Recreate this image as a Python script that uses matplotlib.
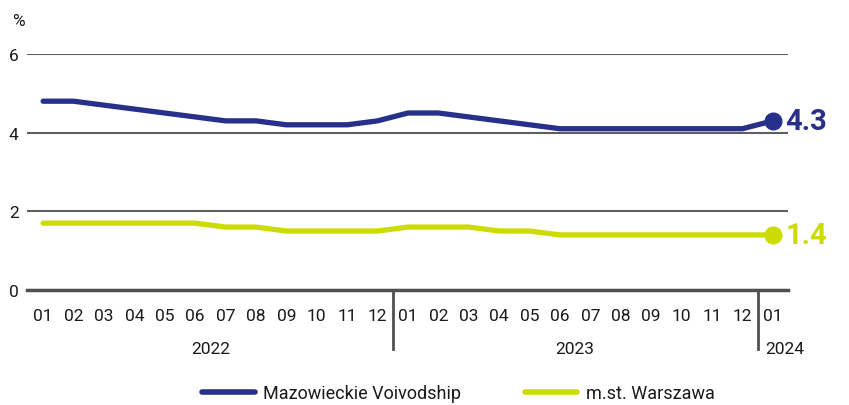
import matplotlib
matplotlib.use("Agg")
import matplotlib.pyplot as plt
import matplotlib.transforms as mtransforms
from matplotlib.lines import Line2D

plt.rcParams['font.family'] = ['Roboto', 'DejaVu Sans']

months = ["01", "02", "03", "04", "05", "06", "07", "08", "09", "10", "11", "12",
          "01", "02", "03", "04", "05", "06", "07", "08", "09", "10", "11", "12",
          "01"]
years = ["2022", "2023", "2024"]
mazowieckie = [4.8, 4.8, 4.7, 4.6, 4.5, 4.4, 4.3, 4.3, 4.2, 4.2, 4.2, 4.3,
               4.5, 4.5, 4.4, 4.3, 4.2, 4.1, 4.1, 4.1, 4.1, 4.1, 4.1, 4.1,
               4.3]
warszawa = [1.7, 1.7, 1.7, 1.7, 1.7, 1.7, 1.6, 1.6, 1.5, 1.5, 1.5, 1.5,
            1.6, 1.6, 1.6, 1.5, 1.5, 1.4, 1.4, 1.4, 1.4, 1.4, 1.4, 1.4,
            1.4]
series_names = ["Mazowieckie Voivodship", "m.st. Warszawa"]

BLUE = "#27308a"
GREEN = "#cddc00"
GRID = "#5f5f5f"
TEXT = "#1a1a1a"
FS = 12.5

fig = plt.figure(figsize=(8.49, 4.06), dpi=100)
ax = fig.add_axes([27/849, 115/406, 761/849, 236/406])

x = list(range(len(months)))
ax.plot(x, mazowieckie, color=BLUE, lw=3.8, solid_joinstyle='round', solid_capstyle='round', zorder=3)
ax.plot(x, warszawa, color=GREEN, lw=3.8, solid_joinstyle='round', solid_capstyle='round', zorder=3)
ax.plot([x[-1]], [mazowieckie[-1]], 'o', color=BLUE, ms=12, zorder=4)
ax.plot([x[-1]], [warszawa[-1]], 'o', color=GREEN, ms=12, zorder=4)
ax.annotate(f"{mazowieckie[-1]:.1f}", (x[-1], mazowieckie[-1]), xytext=(9, 0),
            textcoords='offset points', va='center', ha='left', color=BLUE,
            fontsize=21, fontweight='bold', annotation_clip=False)
ax.annotate(f"{warszawa[-1]:.1f}", (x[-1], warszawa[-1]), xytext=(9, 0),
            textcoords='offset points', va='center', ha='left', color=GREEN,
            fontsize=21, fontweight='bold', annotation_clip=False)

ax.set_xlim(-0.53, 24.5)
ax.set_ylim(0, 6)
ax.set_yticks([0, 2, 4, 6])
ax.set_yticklabels(["0", "2", "4", "6"])
ax.yaxis.grid(True, color=GRID, lw=1.5)
ax.set_axisbelow(True)
for s in ["top", "right", "left"]:
    ax.spines[s].set_visible(False)
ax.spines["bottom"].set_color("#505050")
ax.spines["bottom"].set_linewidth(2.5)
ax.spines["bottom"].set_zorder(2)
ax.tick_params(axis='y', length=0, pad=6, labelsize=FS, labelcolor=TEXT)
ax.set_xticks(x)
ax.set_xticklabels(months)
ax.tick_params(axis='x', length=0, pad=13, labelsize=FS, labelcolor=TEXT)

trans = mtransforms.blended_transform_factory(ax.transData, ax.transAxes)
for sep in [11.5, 23.5]:
    ax.plot([sep, sep], [0, -0.25], color="#505050", lw=2, transform=trans, clip_on=False)
ax.text(5.5, -0.25, years[0], transform=trans, ha='center', va='center', fontsize=FS, color=TEXT)
ax.text(17.5, -0.25, years[1], transform=trans, ha='center', va='center', fontsize=FS, color=TEXT)
ax.text(23.75, -0.25, years[2], transform=trans, ha='left', va='center', fontsize=FS, color=TEXT)

fig.text(18/849, 1 - 22/406, "%", ha='center', va='center', fontsize=FS, color=TEXT)

handles = [Line2D([], [], color=BLUE, lw=4, solid_capstyle='round'),
           Line2D([], [], color=GREEN, lw=4, solid_capstyle='round')]
fig.legend(handles, series_names, loc='center', bbox_to_anchor=(0.54, 12/406),
           ncol=2, frameon=False, fontsize=13, handlelength=2.9,
           handletextpad=0.45, columnspacing=3.55, labelcolor=TEXT,
           borderpad=0)

fig.savefig("out.png", dpi=100)
